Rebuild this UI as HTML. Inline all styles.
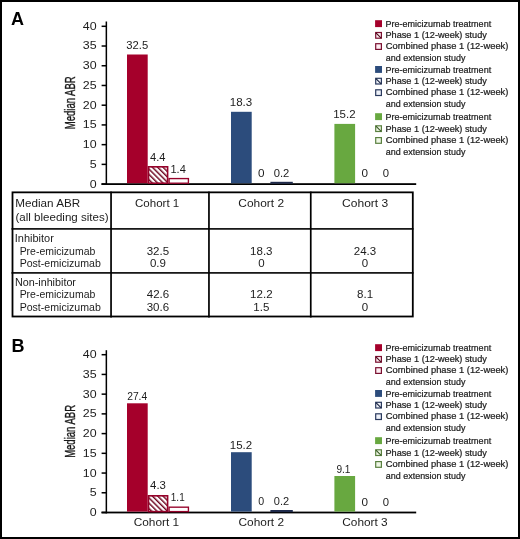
<!DOCTYPE html>
<html><head><meta charset="utf-8"><style>
html,body{margin:0;padding:0;background:#fff;}
body{width:520px;height:539px;overflow:hidden;}
svg{display:block;will-change:transform;font-family:"Liberation Sans",sans-serif;}
text{fill:#1c1c1c;}
.yl{font-size:14.2px;stroke:#141414;stroke-width:0.35px;}
.lg{stroke:#1c1c1c;stroke-width:0.22px;}
.pl{font-size:18px;font-weight:bold;fill:#000;}
</style></head><body>
<svg width="520" height="539" viewBox="0 0 520 539">
<defs>
<pattern id="hr" patternUnits="userSpaceOnUse" width="3.75" height="3.75" patternTransform="rotate(-45)"><rect width="3.75" height="3.75" fill="#fff"/><rect x="0" y="0" width="1.45" height="3.75" fill="#6e0620"/></pattern>
<pattern id="hb" patternUnits="userSpaceOnUse" width="3.75" height="3.75" patternTransform="rotate(-45)"><rect width="3.75" height="3.75" fill="#fff"/><rect x="0" y="0" width="1.45" height="3.75" fill="#1c2c50"/></pattern>
<pattern id="hg" patternUnits="userSpaceOnUse" width="3.75" height="3.75" patternTransform="rotate(-45)"><rect width="3.75" height="3.75" fill="#fff"/><rect x="0" y="0" width="1.45" height="3.75" fill="#3e6a28"/></pattern>
</defs>
<rect x="1" y="1" width="518" height="537" fill="#fff" stroke="#000" stroke-width="2"/>
<text x="11" y="24.6" class="pl">A</text>
<text x="11.6" y="351.9" class="pl">B</text>
<rect x="105.6" y="21.5" width="1.5" height="163.5" fill="#000"/>
<rect x="101.5" y="183.2" width="314.7" height="1.8" fill="#000"/>
<rect x="101.6" y="183.35" width="5" height="1.5" fill="#000"/>
<text x="89.68" y="187.55" class="tk" textLength="6.91" lengthAdjust="spacingAndGlyphs" style="font-size:10.8px">0</text>
<rect x="101.6" y="163.62" width="5" height="1.5" fill="#000"/>
<text x="89.72" y="167.82" class="tk" textLength="6.91" lengthAdjust="spacingAndGlyphs" style="font-size:10.8px">5</text>
<rect x="101.6" y="143.90" width="5" height="1.5" fill="#000"/>
<text x="82.77" y="148.10" class="tk" textLength="13.81" lengthAdjust="spacingAndGlyphs" style="font-size:10.8px">10</text>
<rect x="101.6" y="124.17" width="5" height="1.5" fill="#000"/>
<text x="82.81" y="128.37" class="tk" textLength="13.81" lengthAdjust="spacingAndGlyphs" style="font-size:10.8px">15</text>
<rect x="101.6" y="104.45" width="5" height="1.5" fill="#000"/>
<text x="82.77" y="108.65" class="tk" textLength="13.81" lengthAdjust="spacingAndGlyphs" style="font-size:10.8px">20</text>
<rect x="101.6" y="84.72" width="5" height="1.5" fill="#000"/>
<text x="82.81" y="88.92" class="tk" textLength="13.81" lengthAdjust="spacingAndGlyphs" style="font-size:10.8px">25</text>
<rect x="101.6" y="65.00" width="5" height="1.5" fill="#000"/>
<text x="82.77" y="69.20" class="tk" textLength="13.81" lengthAdjust="spacingAndGlyphs" style="font-size:10.8px">30</text>
<rect x="101.6" y="45.27" width="5" height="1.5" fill="#000"/>
<text x="82.81" y="49.47" class="tk" textLength="13.81" lengthAdjust="spacingAndGlyphs" style="font-size:10.8px">35</text>
<rect x="101.6" y="25.55" width="5" height="1.5" fill="#000"/>
<text x="82.77" y="29.75" class="tk" textLength="13.81" lengthAdjust="spacingAndGlyphs" style="font-size:10.8px">40</text>
<text class="yl" transform="translate(75.0,102.8) rotate(-90) scale(0.672,1)" text-anchor="middle">Median ABR</text>
<rect x="127" y="54.50" width="20.7" height="128.70" fill="#a5002b"/>
<rect x="148.50" y="166.80" width="19.10" height="16.40" fill="url(#hr)" stroke="#96022a" stroke-width="1.6"/>
<rect x="169.08" y="178.58" width="19.34" height="4.62" fill="#fff" stroke="#96022a" stroke-width="1.36"/>
<text x="126.37" y="49.10" class="vl" textLength="21.90" lengthAdjust="spacingAndGlyphs" style="font-size:11px">32.5</text>
<text x="150.04" y="160.80" class="vl" textLength="15.48" lengthAdjust="spacingAndGlyphs" style="font-size:11px">4.4</text>
<text x="170.46" y="172.90" class="vl" textLength="15.36" lengthAdjust="spacingAndGlyphs" style="font-size:11px">1.4</text>
<rect x="231" y="111.80" width="20.7" height="71.40" fill="#2c4c7c"/>
<rect x="270.40" y="181.80" width="22.40" height="1.90" fill="#1f2b4c"/>
<text x="229.72" y="106.00" class="vl" textLength="22.49" lengthAdjust="spacingAndGlyphs" style="font-size:11px">18.3</text>
<text x="258.04" y="177.10" class="vl" textLength="6.52" lengthAdjust="spacingAndGlyphs" style="font-size:11px">0</text>
<text x="273.76" y="177.10" class="vl" textLength="15.60" lengthAdjust="spacingAndGlyphs" style="font-size:11px">0.2</text>
<rect x="334.4" y="123.90" width="20.7" height="59.30" fill="#68a840"/>
<text x="333.23" y="117.80" class="vl" textLength="22.35" lengthAdjust="spacingAndGlyphs" style="font-size:11px">15.2</text>
<text x="361.64" y="177.00" class="vl" textLength="6.52" lengthAdjust="spacingAndGlyphs" style="font-size:11px">0</text>
<text x="382.66" y="177.00" class="vl" textLength="6.28" lengthAdjust="spacingAndGlyphs" style="font-size:11px">0</text>
<rect x="375.1" y="20.20" width="6.9" height="6.9" fill="#a5002b"/>
<text x="385.46" y="26.90" class="lg" textLength="105.70" lengthAdjust="spacingAndGlyphs" style="font-size:9.1px">Pre-emicizumab treatment</text>
<rect x="375.7" y="32.50" width="5.7" height="5.7" fill="#fdedf2" stroke="#7a1030" stroke-width="1.2"/>
<line x1="375.9" y1="32.80" x2="381.2" y2="38.10" stroke="#4a0818" stroke-width="1.1"/>
<text x="385.45" y="38.20" class="lg" textLength="101.47" lengthAdjust="spacingAndGlyphs" style="font-size:9.1px">Phase 1 (12-week) study</text>
<rect x="375.7" y="43.70" width="5.7" height="5.7" fill="#fdedf2" stroke="#7a1030" stroke-width="1.2"/>
<text x="385.72" y="49.30" class="lg" textLength="122.66" lengthAdjust="spacingAndGlyphs" style="font-size:9.1px">Combined phase 1 (12-week)</text>
<text x="385.82" y="60.50" class="lg" textLength="79.59" lengthAdjust="spacingAndGlyphs" style="font-size:9.1px">and extension study</text>
<rect x="375.1" y="66.00" width="6.9" height="6.9" fill="#2c4c7c"/>
<text x="385.46" y="72.70" class="lg" textLength="105.70" lengthAdjust="spacingAndGlyphs" style="font-size:9.1px">Pre-emicizumab treatment</text>
<rect x="375.7" y="78.30" width="5.7" height="5.7" fill="#eef1f8" stroke="#2a3a5e" stroke-width="1.2"/>
<line x1="375.9" y1="78.60" x2="381.2" y2="83.90" stroke="#1a2440" stroke-width="1.1"/>
<text x="385.45" y="84.00" class="lg" textLength="101.47" lengthAdjust="spacingAndGlyphs" style="font-size:9.1px">Phase 1 (12-week) study</text>
<rect x="375.7" y="89.80" width="5.7" height="5.7" fill="#eef1f8" stroke="#2a3a5e" stroke-width="1.2"/>
<text x="385.72" y="95.40" class="lg" textLength="122.66" lengthAdjust="spacingAndGlyphs" style="font-size:9.1px">Combined phase 1 (12-week)</text>
<text x="385.82" y="106.80" class="lg" textLength="79.59" lengthAdjust="spacingAndGlyphs" style="font-size:9.1px">and extension study</text>
<rect x="375.1" y="113.20" width="6.9" height="6.9" fill="#68a840"/>
<text x="385.46" y="119.90" class="lg" textLength="105.70" lengthAdjust="spacingAndGlyphs" style="font-size:9.1px">Pre-emicizumab treatment</text>
<rect x="375.7" y="125.80" width="5.7" height="5.7" fill="#eff7e6" stroke="#5a8040" stroke-width="1.2"/>
<line x1="375.9" y1="126.10" x2="381.2" y2="131.40" stroke="#3a5a28" stroke-width="1.1"/>
<text x="385.45" y="131.50" class="lg" textLength="101.47" lengthAdjust="spacingAndGlyphs" style="font-size:9.1px">Phase 1 (12-week) study</text>
<rect x="375.7" y="137.60" width="5.7" height="5.7" fill="#eff7e6" stroke="#5a8040" stroke-width="1.2"/>
<text x="385.72" y="143.20" class="lg" textLength="122.66" lengthAdjust="spacingAndGlyphs" style="font-size:9.1px">Combined phase 1 (12-week)</text>
<text x="385.82" y="154.50" class="lg" textLength="79.59" lengthAdjust="spacingAndGlyphs" style="font-size:9.1px">and extension study</text>
<rect x="12.5" y="192.35" width="400.3" height="124.15" fill="none" stroke="#000" stroke-width="1.8"/>
<rect x="110.2" y="191.6" width="1.7" height="125.9" fill="#000"/>
<rect x="208.1" y="191.6" width="1.7" height="125.9" fill="#000"/>
<rect x="309.9" y="191.6" width="1.7" height="125.9" fill="#000"/>
<rect x="11.5" y="228.1" width="402.0" height="1.6" fill="#000"/>
<rect x="11.5" y="272.1" width="402.0" height="1.6" fill="#000"/>
<text x="15.24" y="206.70" class="tb" textLength="65.00" lengthAdjust="spacingAndGlyphs" style="font-size:11.2px">Median ABR</text>
<text x="15.48" y="220.50" class="tb" textLength="93.13" lengthAdjust="spacingAndGlyphs" style="font-size:11.2px">(all bleeding sites)</text>
<text x="135.01" y="206.80" class="tb" textLength="44.26" lengthAdjust="spacingAndGlyphs" style="font-size:11.2px">Cohort 1</text>
<text x="238.39" y="206.80" class="tb" textLength="45.71" lengthAdjust="spacingAndGlyphs" style="font-size:11.2px">Cohort 2</text>
<text x="342.09" y="206.80" class="tb" textLength="46.15" lengthAdjust="spacingAndGlyphs" style="font-size:11.2px">Cohort 3</text>
<text x="14.79" y="241.70" class="tb" textLength="39.08" lengthAdjust="spacingAndGlyphs" style="font-size:11.2px">Inhibitor</text>
<text x="19.64" y="254.60" class="tb" textLength="75.70" lengthAdjust="spacingAndGlyphs" style="font-size:11.2px">Pre-emicizumab</text>
<text x="19.63" y="267.30" class="tb" textLength="81.21" lengthAdjust="spacingAndGlyphs" style="font-size:11.2px">Post-emicizumab</text>
<text x="14.92" y="285.60" class="tb" textLength="61.06" lengthAdjust="spacingAndGlyphs" style="font-size:11.2px">Non-inhibitor</text>
<text x="19.64" y="298.40" class="tb" textLength="75.70" lengthAdjust="spacingAndGlyphs" style="font-size:11.2px">Pre-emicizumab</text>
<text x="19.63" y="311.20" class="tb" textLength="81.21" lengthAdjust="spacingAndGlyphs" style="font-size:11.2px">Post-emicizumab</text>
<text x="146.70" y="254.50" class="tb" textLength="22.45" lengthAdjust="spacingAndGlyphs" style="font-size:11.2px">32.5</text>
<text x="250.09" y="254.50" class="tb" textLength="22.45" lengthAdjust="spacingAndGlyphs" style="font-size:11.2px">18.3</text>
<text x="353.74" y="254.50" class="tb" textLength="22.45" lengthAdjust="spacingAndGlyphs" style="font-size:11.2px">24.3</text>
<text x="149.93" y="267.20" class="tb" textLength="16.04" lengthAdjust="spacingAndGlyphs" style="font-size:11.2px">0.9</text>
<text x="258.29" y="267.20" class="tb" textLength="6.42" lengthAdjust="spacingAndGlyphs" style="font-size:11.2px">0</text>
<text x="361.79" y="267.20" class="tb" textLength="6.42" lengthAdjust="spacingAndGlyphs" style="font-size:11.2px">0</text>
<text x="146.80" y="298.40" class="tb" textLength="22.45" lengthAdjust="spacingAndGlyphs" style="font-size:11.2px">42.6</text>
<text x="250.13" y="298.40" class="tb" textLength="22.45" lengthAdjust="spacingAndGlyphs" style="font-size:11.2px">12.2</text>
<text x="357.02" y="298.40" class="tb" textLength="16.04" lengthAdjust="spacingAndGlyphs" style="font-size:11.2px">8.1</text>
<text x="146.71" y="311.20" class="tb" textLength="22.45" lengthAdjust="spacingAndGlyphs" style="font-size:11.2px">30.6</text>
<text x="253.29" y="311.20" class="tb" textLength="16.04" lengthAdjust="spacingAndGlyphs" style="font-size:11.2px">1.5</text>
<text x="361.79" y="311.20" class="tb" textLength="6.42" lengthAdjust="spacingAndGlyphs" style="font-size:11.2px">0</text>
<rect x="105.6" y="350.2" width="1.5" height="163.20000000000002" fill="#000"/>
<rect x="101.5" y="511.6" width="314.7" height="1.8" fill="#000"/>
<rect x="101.6" y="511.75" width="5" height="1.5" fill="#000"/>
<text x="89.68" y="515.95" class="tk" textLength="6.91" lengthAdjust="spacingAndGlyphs" style="font-size:10.8px">0</text>
<rect x="101.6" y="492.02" width="5" height="1.5" fill="#000"/>
<text x="89.72" y="496.22" class="tk" textLength="6.91" lengthAdjust="spacingAndGlyphs" style="font-size:10.8px">5</text>
<rect x="101.6" y="472.30" width="5" height="1.5" fill="#000"/>
<text x="82.77" y="476.50" class="tk" textLength="13.81" lengthAdjust="spacingAndGlyphs" style="font-size:10.8px">10</text>
<rect x="101.6" y="452.57" width="5" height="1.5" fill="#000"/>
<text x="82.81" y="456.77" class="tk" textLength="13.81" lengthAdjust="spacingAndGlyphs" style="font-size:10.8px">15</text>
<rect x="101.6" y="432.85" width="5" height="1.5" fill="#000"/>
<text x="82.77" y="437.05" class="tk" textLength="13.81" lengthAdjust="spacingAndGlyphs" style="font-size:10.8px">20</text>
<rect x="101.6" y="413.12" width="5" height="1.5" fill="#000"/>
<text x="82.81" y="417.32" class="tk" textLength="13.81" lengthAdjust="spacingAndGlyphs" style="font-size:10.8px">25</text>
<rect x="101.6" y="393.40" width="5" height="1.5" fill="#000"/>
<text x="82.77" y="397.60" class="tk" textLength="13.81" lengthAdjust="spacingAndGlyphs" style="font-size:10.8px">30</text>
<rect x="101.6" y="373.67" width="5" height="1.5" fill="#000"/>
<text x="82.81" y="377.87" class="tk" textLength="13.81" lengthAdjust="spacingAndGlyphs" style="font-size:10.8px">35</text>
<rect x="101.6" y="353.95" width="5" height="1.5" fill="#000"/>
<text x="82.77" y="358.15" class="tk" textLength="13.81" lengthAdjust="spacingAndGlyphs" style="font-size:10.8px">40</text>
<text class="yl" transform="translate(75.0,431.4) rotate(-90) scale(0.672,1)" text-anchor="middle">Median ABR</text>
<rect x="127" y="403.30" width="20.7" height="108.30" fill="#a5002b"/>
<rect x="148.50" y="495.80" width="19.10" height="15.80" fill="url(#hr)" stroke="#96022a" stroke-width="1.6"/>
<rect x="169.08" y="507.18" width="19.34" height="4.42" fill="#fff" stroke="#96022a" stroke-width="1.36"/>
<text x="127.19" y="399.70" class="vl" textLength="20.02" lengthAdjust="spacingAndGlyphs" style="font-size:11px">27.4</text>
<text x="150.04" y="488.80" class="vl" textLength="15.87" lengthAdjust="spacingAndGlyphs" style="font-size:11px">4.3</text>
<text x="170.84" y="500.70" class="vl" textLength="13.85" lengthAdjust="spacingAndGlyphs" style="font-size:11px">1.1</text>
<text x="133.65" y="526.00" class="cl" textLength="45.49" lengthAdjust="spacingAndGlyphs" style="font-size:11.4px">Cohort 1</text>
<rect x="231" y="452.20" width="20.7" height="59.40" fill="#2c4c7c"/>
<rect x="270.40" y="510.00" width="22.40" height="2.10" fill="#1f2b4c"/>
<text x="229.83" y="448.70" class="vl" textLength="22.35" lengthAdjust="spacingAndGlyphs" style="font-size:11px">15.2</text>
<text x="258.28" y="505.30" class="vl" textLength="5.93" lengthAdjust="spacingAndGlyphs" style="font-size:11px">0</text>
<text x="273.77" y="505.30" class="vl" textLength="15.28" lengthAdjust="spacingAndGlyphs" style="font-size:11px">0.2</text>
<text x="238.54" y="526.00" class="cl" textLength="45.50" lengthAdjust="spacingAndGlyphs" style="font-size:11.4px">Cohort 2</text>
<rect x="334.4" y="476.00" width="20.7" height="35.60" fill="#68a840"/>
<text x="336.42" y="473.40" class="vl" textLength="14.07" lengthAdjust="spacingAndGlyphs" style="font-size:11px">9.1</text>
<text x="361.44" y="505.50" class="vl" textLength="6.52" lengthAdjust="spacingAndGlyphs" style="font-size:11px">0</text>
<text x="382.66" y="505.50" class="vl" textLength="6.28" lengthAdjust="spacingAndGlyphs" style="font-size:11px">0</text>
<text x="342.25" y="526.00" class="cl" textLength="45.43" lengthAdjust="spacingAndGlyphs" style="font-size:11.4px">Cohort 3</text>
<rect x="375.1" y="344.20" width="6.9" height="6.9" fill="#a5002b"/>
<text x="385.46" y="350.90" class="lg" textLength="105.70" lengthAdjust="spacingAndGlyphs" style="font-size:9.1px">Pre-emicizumab treatment</text>
<rect x="375.7" y="356.50" width="5.7" height="5.7" fill="#fdedf2" stroke="#7a1030" stroke-width="1.2"/>
<line x1="375.9" y1="356.80" x2="381.2" y2="362.10" stroke="#4a0818" stroke-width="1.1"/>
<text x="385.45" y="362.20" class="lg" textLength="101.47" lengthAdjust="spacingAndGlyphs" style="font-size:9.1px">Phase 1 (12-week) study</text>
<rect x="375.7" y="367.70" width="5.7" height="5.7" fill="#fdedf2" stroke="#7a1030" stroke-width="1.2"/>
<text x="385.72" y="373.30" class="lg" textLength="122.66" lengthAdjust="spacingAndGlyphs" style="font-size:9.1px">Combined phase 1 (12-week)</text>
<text x="385.82" y="384.50" class="lg" textLength="79.59" lengthAdjust="spacingAndGlyphs" style="font-size:9.1px">and extension study</text>
<rect x="375.1" y="390.00" width="6.9" height="6.9" fill="#2c4c7c"/>
<text x="385.46" y="396.70" class="lg" textLength="105.70" lengthAdjust="spacingAndGlyphs" style="font-size:9.1px">Pre-emicizumab treatment</text>
<rect x="375.7" y="402.30" width="5.7" height="5.7" fill="#eef1f8" stroke="#2a3a5e" stroke-width="1.2"/>
<line x1="375.9" y1="402.60" x2="381.2" y2="407.90" stroke="#1a2440" stroke-width="1.1"/>
<text x="385.45" y="408.00" class="lg" textLength="101.47" lengthAdjust="spacingAndGlyphs" style="font-size:9.1px">Phase 1 (12-week) study</text>
<rect x="375.7" y="413.80" width="5.7" height="5.7" fill="#eef1f8" stroke="#2a3a5e" stroke-width="1.2"/>
<text x="385.72" y="419.40" class="lg" textLength="122.66" lengthAdjust="spacingAndGlyphs" style="font-size:9.1px">Combined phase 1 (12-week)</text>
<text x="385.82" y="430.80" class="lg" textLength="79.59" lengthAdjust="spacingAndGlyphs" style="font-size:9.1px">and extension study</text>
<rect x="375.1" y="437.20" width="6.9" height="6.9" fill="#68a840"/>
<text x="385.46" y="443.90" class="lg" textLength="105.70" lengthAdjust="spacingAndGlyphs" style="font-size:9.1px">Pre-emicizumab treatment</text>
<rect x="375.7" y="449.80" width="5.7" height="5.7" fill="#eff7e6" stroke="#5a8040" stroke-width="1.2"/>
<line x1="375.9" y1="450.10" x2="381.2" y2="455.40" stroke="#3a5a28" stroke-width="1.1"/>
<text x="385.45" y="455.50" class="lg" textLength="101.47" lengthAdjust="spacingAndGlyphs" style="font-size:9.1px">Phase 1 (12-week) study</text>
<rect x="375.7" y="461.60" width="5.7" height="5.7" fill="#eff7e6" stroke="#5a8040" stroke-width="1.2"/>
<text x="385.72" y="467.20" class="lg" textLength="122.66" lengthAdjust="spacingAndGlyphs" style="font-size:9.1px">Combined phase 1 (12-week)</text>
<text x="385.82" y="478.50" class="lg" textLength="79.59" lengthAdjust="spacingAndGlyphs" style="font-size:9.1px">and extension study</text>
</svg>
</body></html>
